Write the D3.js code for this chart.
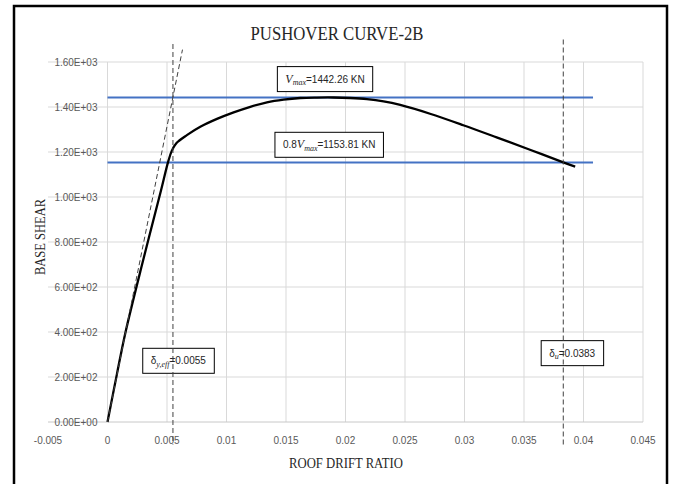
<!DOCTYPE html>
<html>
<head>
<meta charset="utf-8">
<script src="https://cdn.jsdelivr.net/npm/d3@7"></script>
<style>
	body { margin: 0; background: #fff; }
	.tick_lbl { font-family: "Liberation Sans", Arial, sans-serif; font-size: 10px; fill: #595959; }
	.ttl { font-family: "Liberation Serif", "Times New Roman", serif; fill: #262626; }
	.note { font-family: "Liberation Sans", Arial, sans-serif; font-size: 10px; fill: #262626; }
</style>
</head>
<body>
<div id="chart"></div>
<script>

// pushover curve (roof drift ratio, base shear kN)
var drift= [0, 0.0008, 0.0015, 0.0030, 0.0045, 0.0051, 0.0054, 0.0058, 0.0067, 0.0078, 0.0092, 0.0106, 0.0120,
	0.0134, 0.0148, 0.0162, 0.0176, 0.0190, 0.0204, 0.0218, 0.0232, 0.0246, 0.0271, 0.0299, 0.0327, 0.0355, 0.0383, 0.0393];
var shear= [0, 215, 396, 720, 1030, 1157, 1205, 1240, 1276, 1312, 1347, 1376, 1401,
	1421, 1433, 1440, 1442, 1442.26, 1440, 1435, 1425, 1409, 1370, 1319, 1265, 1210, 1154, 1135];

// reference levels
var v_max= 1442.26;
var v_08= 1153.81;
var d_yeff= 0.0055;
var d_u= 0.0383;
var level_end= 0.0408;

// effective stiffness line (dashed)
var secant_x= [0, 0.0063];
var secant_y= [0, 1655];

// vertical markers span (in shear units)
var marker_top= [1680, 1700];
var marker_bottom= -100;

var x_ticks= [-0.005, 0, 0.005, 0.01, 0.015, 0.02, 0.025, 0.03, 0.035, 0.04, 0.045];
var x_tick_lbl= ["-0.005", "0", "0.005", "0.01", "0.015", "0.02", "0.025", "0.03", "0.035", "0.04", "0.045"];
var y_ticks= [0, 200, 400, 600, 800, 1000, 1200, 1400, 1600];
var y_tick_lbl= ["0.00E+00", "2.00E+02", "4.00E+02", "6.00E+02", "8.00E+02", "1.00E+03", "1.20E+03", "1.40E+03", "1.60E+03"];

// annotation boxes: centre in data units
var note_x= [0.01828, 0.01863, 0.00595, 0.03905];
var note_y= [1524, 1232, 272, 306];

var W= 673, H= 484;
var svg= d3.select("#chart").append("svg")
	.attr("width", W)
	.attr("height", H);

var x= d3.scaleLinear().domain([-0.005, 0.045]).range([48, 643]);
var y= d3.scaleLinear().domain([0, 1600]).range([422, 62]);

// frame
svg.append("rect")
	.attr("x", 14).attr("y", 6)
	.attr("width", 653).attr("height", 500)
	.attr("fill", "none")
	.attr("stroke", "#000")
	.attr("stroke-width", 2.5);

// horizontal grid
svg.append("g").selectAll("line")
	.data(y_ticks.slice(1))
	.enter().append("line")
		.attr("x1", x(-0.005)).attr("x2", x(0.045))
		.attr("y1", function(d) { return y(d); })
		.attr("y2", function(d) { return y(d); })
		.attr("stroke", "#d9d9d9").attr("stroke-width", 1);

// vertical grid
svg.append("g").selectAll("line")
	.data(x_ticks.slice(1))
	.enter().append("line")
		.attr("x1", function(d) { return x(d); })
		.attr("x2", function(d) { return x(d); })
		.attr("y1", y(1600)).attr("y2", y(0))
		.attr("stroke", "#d9d9d9").attr("stroke-width", 1);

// x axis line
svg.append("line")
	.attr("x1", x(-0.005)).attr("x2", x(0.045))
	.attr("y1", y(0)).attr("y2", y(0))
	.attr("stroke", "#c8c8c8").attr("stroke-width", 1);

// tick labels
svg.append("g").selectAll("text")
	.data(x_ticks)
	.enter().append("text")
		.attr("class", "tick_lbl")
		.attr("x", function(d) { return x(d); })
		.attr("y", y(0) + 22)
		.attr("text-anchor", "middle")
		.text(function(d, i) { return x_tick_lbl[i]; });

svg.append("g").selectAll("text")
	.data(y_ticks)
	.enter().append("text")
		.attr("class", "tick_lbl")
		.attr("x", x(0) - 10)
		.attr("y", function(d) { return y(d) + 3.5; })
		.attr("text-anchor", "end")
		.text(function(d, i) { return y_tick_lbl[i]; });

// titles
svg.append("text")
	.attr("class", "ttl")
	.attr("x", 337).attr("y", 40)
	.attr("text-anchor", "middle")
	.style("font-size", "19px")
	.attr("textLength", 173).attr("lengthAdjust", "spacingAndGlyphs")
	.text("PUSHOVER CURVE-2B");

svg.append("text")
	.attr("class", "ttl")
	.attr("x", 346).attr("y", 468)
	.attr("text-anchor", "middle")
	.style("font-size", "14px")
	.attr("textLength", 114).attr("lengthAdjust", "spacingAndGlyphs")
	.text("ROOF DRIFT RATIO");

svg.append("text")
	.attr("class", "ttl")
	.attr("transform", "translate(45," + 237 + ") rotate(-90)")
	.attr("text-anchor", "middle")
	.style("font-size", "14px")
	.attr("textLength", 76).attr("lengthAdjust", "spacingAndGlyphs")
	.text("BASE SHEAR");

// blue levels
svg.append("g").selectAll("line")
	.data([v_max, v_08])
	.enter().append("line")
		.attr("x1", x(0)).attr("x2", x(level_end))
		.attr("y1", function(d) { return y(d); })
		.attr("y2", function(d) { return y(d); })
		.attr("stroke", "#4472c4").attr("stroke-width", 2);

// curve
var pts= drift.map(function(d, i) { return [d, shear[i]]; });
var line= d3.line()
	.x(function(d) { return x(d[0]); })
	.y(function(d) { return y(d[1]); })
	.curve(d3.curveCatmullRom.alpha(0.5));

svg.append("path")
	.datum(pts)
	.attr("d", line)
	.attr("fill", "none")
	.attr("stroke", "#000")
	.attr("stroke-width", 2.3);

// annotation boxes
var notes= [
	{ parts: [["V", "it"], ["max", "sub"], ["=1442.26 KN", "n"]] },
	{ parts: [["0.8", "n"], ["V", "it"], ["max", "sub"], ["=1153.81 KN", "n"]] },
	{ parts: [["\u03b4", "n"], ["y,eff", "sub"], ["=0.0055", "n"]] },
	{ parts: [["\u03b4", "n"], ["u", "sub"], ["=0.0383", "n"]] }
];

notes.forEach(function(n, i) {
	var cx= x(note_x[i]), cy= y(note_y[i]);
	var g= svg.append("g");
	var box= g.append("rect");
	var t= g.append("text")
		.attr("class", "note")
		.attr("x", cx).attr("y", cy + 3.5)
		.attr("text-anchor", "middle");
	n.parts.forEach(function(p) {
		var s= t.append("tspan").text(p[0]);
		if (p[1]== "it") s.style("font-family", "'Liberation Serif', serif").style("font-style", "italic").style("font-size", "12px");
		if (p[1]== "sub") s.style("font-family", "'Liberation Serif', serif").style("font-style", "italic").style("font-size", "8px").attr("dy", 2.5);
		if (p[1]== "n" && s.node().previousSibling && d3.select(s.node().previousSibling).attr("dy")) s.attr("dy", -2.5);
	});
	var bb= t.node().getBBox();
	box.attr("x", bb.x - 8).attr("y", cy - 12.5)
		.attr("width", bb.width + 16).attr("height", 25)
		.attr("fill", "#fff")
		.attr("stroke", "#000").attr("stroke-width", 1);
});

// dashed markers
var dash= "5,3";
svg.append("line")
	.attr("x1", x(secant_x[0])).attr("y1", y(secant_y[0]))
	.attr("x2", x(secant_x[1])).attr("y2", y(secant_y[1]))
	.attr("stroke", "#404040").attr("stroke-width", 1)
	.attr("stroke-dasharray", dash);

svg.append("g").selectAll("line")
	.data([d_yeff, d_u])
	.enter().append("line")
		.attr("x1", function(d) { return x(d); })
		.attr("x2", function(d) { return x(d); })
		.attr("y1", function(d, i) { return y(marker_top[i]); })
		.attr("y2", y(marker_bottom))
		.attr("stroke", "#404040").attr("stroke-width", 1)
		.attr("stroke-dasharray", dash);

</script>
</body>
</html>
